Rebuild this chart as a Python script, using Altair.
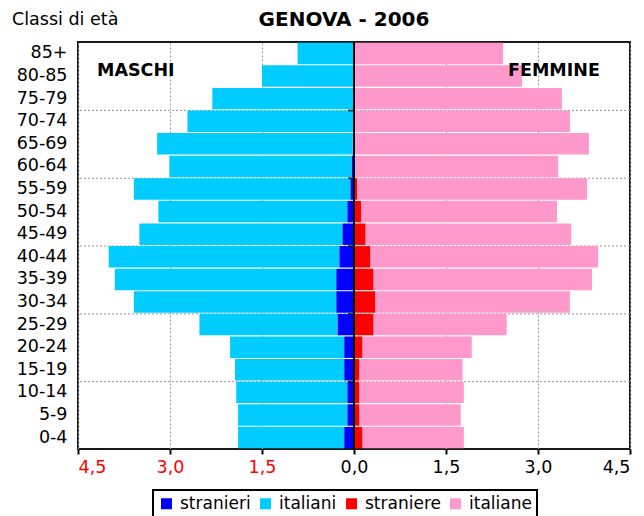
import altair as alt
import pandas as pd

ages = ["85+", "80-85", "75-79", "70-74", "65-69", "60-64", "55-59", "50-54", "45-49",
        "40-44", "35-39", "30-34", "25-29", "20-24", "15-19", "10-14", "5-9", "0-4"]
stranieri = [0.00, 0.00, 0.00, 0.005, 0.02, 0.04, 0.06, 0.11, 0.19,
             0.24, 0.29, 0.29, 0.27, 0.16, 0.16, 0.11, 0.11, 0.16]
italiani = [0.92, 1.50, 2.31, 2.71, 3.19, 2.97, 3.53, 3.08, 3.31,
            3.76, 3.61, 3.30, 2.25, 1.86, 1.78, 1.81, 1.78, 1.73]
straniere = [0.00, 0.00, 0.00, 0.00, 0.00, 0.00, 0.05, 0.12, 0.19,
             0.27, 0.32, 0.35, 0.32, 0.14, 0.09, 0.09, 0.09, 0.14]
italiane = [2.43, 2.74, 3.39, 3.52, 3.83, 3.33, 3.75, 3.19, 3.35,
            3.71, 3.56, 3.17, 2.17, 1.78, 1.68, 1.70, 1.65, 1.65]

series_names = ["stranieri", "italiani", "straniere", "italiane"]
series_colors = ["#0000FF", "#00CCFF", "#FF0000", "#FF99CC"]
x_ticks = [-4.5, -3.0, -1.5, 0.0, 1.5, 3.0, 4.5]
boundary_ages = ["70-74", "55-59", "40-44", "25-29", "10-14"]
title_text = ["GENOVA - 2006"]
ylabel_text = ["Classi di età"]
left_label = ["MASCHI"]
right_label = ["FEMMINE"]

rows = []
for i, a in enumerate(ages):
    rows.append(dict(age=a, serie="stranieri", value=-stranieri[i], ord=0))
    rows.append(dict(age=a, serie="italiani", value=-italiani[i], ord=1))
    rows.append(dict(age=a, serie="straniere", value=straniere[i], ord=0))
    rows.append(dict(age=a, serie="italiane", value=italiane[i], ord=1))
df = pd.DataFrame(rows)

W, H = 552, 407
FONT = "DejaVu Sans"
FS = 17.5

y_scale = alt.Scale(domain=ages, paddingInner=0.05, paddingOuter=0.03)
x_scale = alt.Scale(domain=[-4.5, 4.5], nice=False, zero=False)

y_axis = alt.Axis(title=None, ticks=False, domain=False, grid=False,
                  labelFont=FONT, labelFontSize=FS, labelPadding=11,
                  labelColor="#000000")
x_axis = alt.Axis(values=x_ticks, title=None,
                  labelExpr="replace(format(abs(datum.value), '.1f'), '.', ',')",
                  labelColor={"condition": {"test": "datum.value < 0", "value": "#FF0000"},
                              "value": "#000000"},
                  labelFont=FONT, labelFontSize=FS, labelPadding=4,
                  grid=True, gridDash=[2, 2], gridColor="#999999", gridWidth=1,
                  tickSize=5, tickWidth=2, tickColor="#000000", domain=False)

bdf = pd.DataFrame({"age": boundary_ages})
grid_rules = alt.Chart(bdf).mark_rule(color="#999999", strokeDash=[2, 2], strokeWidth=1).encode(
    y=alt.Y("age:N", scale=y_scale, sort=ages, bandPosition=0, axis=y_axis)
)

bars = alt.Chart(df).mark_bar().encode(
    x=alt.X("value:Q", scale=x_scale, stack="zero", axis=x_axis),
    y=alt.Y("age:N", scale=y_scale, sort=ages, axis=y_axis),
    color=alt.Color("serie:N", scale=alt.Scale(domain=series_names, range=series_colors),
                    legend=alt.Legend(orient="none", direction="horizontal",
                                      legendX=75, legendY=448, title=None,
                                      symbolType="square", symbolSize=121,
                                      symbolStrokeWidth=0, labelFont=FONT,
                                      labelFontSize=17, labelColor="#000000",
                                      strokeColor="#000000", padding=5,
                                      columnPadding=6, labelOffset=5)),
    order=alt.Order("ord:Q"),
)

zero_rule = alt.Chart(pd.DataFrame({"z": [0.0]})).mark_rule(color="#000000", strokeWidth=2).encode(
    x=alt.X("z:Q", scale=x_scale, axis=x_axis)
)

zero_ticks = alt.Chart(bdf).mark_tick(orient="horizontal", color="#000000", thickness=2,
                                      size=6, xOffset=-3).encode(
    x=alt.datum(0.0),
    y=alt.Y("age:N", scale=y_scale, sort=ages, bandPosition=0, axis=y_axis),
)

def label(txt, x, y, bold, size, align):
    return alt.Chart(pd.DataFrame({"t": txt})).mark_text(
        font=FONT, fontSize=size, fontWeight="bold" if bold else "normal",
        align=align, baseline="middle", color="#000000"
    ).encode(text="t:N", x=alt.value(x), y=alt.value(y))

t_title = label(title_text, 266, -22, True, 20, "center")
t_ylab = label(ylabel_text, -66, -22, False, FS, "left")
t_m = label(left_label, 19, 29, True, FS, "left")
t_f = label(right_label, 430, 29, True, FS, "left")

chart = alt.layer(grid_rules, bars, zero_rule, zero_ticks, t_title, t_ylab, t_m, t_f).properties(
    width=W, height=H,
    padding={"left": 70, "top": 34, "right": 6, "bottom": 67},
    autosize=alt.AutoSizeParams(type="none"),
).configure_view(stroke="#1a1a1a", strokeWidth=2).configure_legend(strokeWidth=2)

chart.save("out.html", embed_options={"renderer": "svg", "actions": False})
